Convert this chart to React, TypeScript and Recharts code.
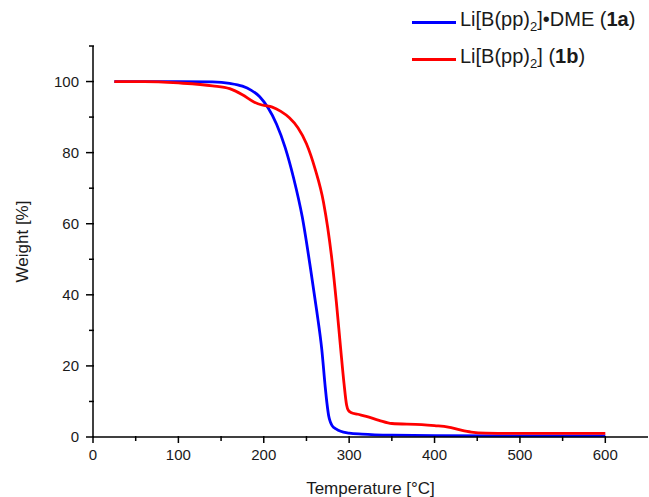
import { LineChart, Line, XAxis, YAxis, Legend, Label } from 'recharts';

// TGA traces
const TEMP_1A = [25, 60, 100, 140, 160, 175, 185, 195, 205, 215, 225, 235, 245, 255, 262, 268, 272, 274, 276, 278, 280, 285, 290, 300, 315, 350, 400, 500, 600];
const WEIGHT_1A = [100, 100, 100, 99.9, 99.5, 98.7, 97.6, 95.8, 92.6, 88, 81.5, 72.8, 62, 47, 35.5, 24.5, 14, 9.5, 6, 4.2, 3.2, 2.2, 1.6, 1.1, 0.8, 0.5, 0.4, 0.3, 0.3];

const TEMP_1B = [25, 60, 100, 140, 160, 175, 189, 198, 210, 220, 230, 240, 250, 260, 270, 280, 285, 290, 294, 297, 299, 302, 310, 320, 335, 350, 385, 400, 416, 430, 443, 460, 500, 600];
const WEIGHT_1B = [100, 100, 99.6, 98.8, 98, 96.3, 94.2, 93.4, 92.8, 91.6, 89.8, 87, 82.5, 75.5, 66, 49.5, 38, 25, 15, 9, 7.5, 6.9, 6.4, 5.8, 4.7, 3.8, 3.5, 3.2, 2.8, 2, 1.4, 1.1, 1.0, 1.0];

const X_TICKS = [0, 50, 100, 150, 200, 250, 300, 350, 400, 450, 500, 550, 600];
const Y_TICKS = [0, 10, 20, 30, 40, 50, 60, 70, 80, 90, 100, 110];

const FONT = '"Liberation Sans", Arial, sans-serif';
const INK = '#1a1a1a';

const data1a = TEMP_1A.map((t, i) => ({ t, w: WEIGHT_1A[i] }));
const data1b = TEMP_1B.map((t, i) => ({ t, w: WEIGHT_1B[i] }));

function XTick(props: any) {
  const { x, y, payload } = props;
  const major = payload.value % 100 === 0;
  return (
    <g>
      <path d={`M${x},${y - 1}V${y + (major ? 6 : 4)}`} stroke="#000" strokeWidth={1.5} fill="none" />
      {major && (
        <text x={x} y={y + 23} textAnchor="middle" fontFamily={FONT} fontSize={15} fill={INK}>
          {payload.value}
        </text>
      )}
    </g>
  );
}

function YTick(props: any) {
  const { x, y, payload } = props;
  const major = payload.value % 20 === 0;
  return (
    <g>
      <path d={`M${x + 1},${y}H${x - (major ? 7 : 4)}`} stroke="#000" strokeWidth={1.5} fill="none" />
      {major && (
        <text x={x - 14} y={y + 5.3} textAnchor="end" fontFamily={FONT} fontSize={15} fill={INK}>
          {payload.value}
        </text>
      )}
    </g>
  );
}

function LegendBox() {
  const rows = [
    { color: '#0000ff', label: <>Li[B(pp)<sub style={{ fontSize: 13 }}>2</sub>]•DME (<b>1a</b>)</> },
    { color: '#ff0000', label: <>Li[B(pp)<sub style={{ fontSize: 13 }}>2</sub>] (<b>1b</b>)</> },
  ];
  return (
    <div style={{ fontFamily: FONT, fontSize: 20, color: INK }}>
      {rows.map((r, i) => (
        <div key={i} style={{ display: 'flex', alignItems: 'center', height: 37 }}>
          <span style={{ display: 'inline-block', width: 44, height: 3, background: r.color, marginRight: 4 }} />
          <span style={{ lineHeight: '22px', whiteSpace: 'nowrap' }}>{r.label}</span>
        </div>
      ))}
    </div>
  );
}

export default function App() {
  return (
    <div style={{ position: 'absolute', left: 0, top: 0, background: '#fff' }}>
      <LineChart width={649} height={497} margin={{ top: 46, right: 1, bottom: 0, left: 13 }}>
        <XAxis
          type="number"
          dataKey="t"
          domain={[0, 650]}
          ticks={X_TICKS}
          allowDuplicatedCategory={false}
          height={60}
          tickSize={0}
          tickMargin={0}
          tick={<XTick />}
          axisLine={{ stroke: '#000', strokeWidth: 1.5 }}
          interval={0}
        >
          <Label
            value="Temperature [°C]"
            position="insideBottom"
            offset={3}
            style={{ fontFamily: FONT, fontSize: 17, fill: INK }}
          />
        </XAxis>
        <YAxis
          type="number"
          domain={[0, 110]}
          ticks={Y_TICKS}
          width={80}
          tickSize={0}
          tickMargin={0}
          tick={<YTick />}
          axisLine={{ stroke: '#000', strokeWidth: 1.5 }}
          interval={0}
        >
          <Label
            value="Weight [%]"
            angle={-90}
            position="insideLeft"
            offset={9}
            style={{ fontFamily: FONT, fontSize: 17, fill: INK, textAnchor: 'middle' }}
          />
        </YAxis>
        <Legend
          layout="vertical"
          align="center"
          verticalAlign="middle"
          wrapperStyle={{ top: 4, left: 412, width: 237 }}
          content={() => <LegendBox />}
        />
        <Line
          data={data1a}
          dataKey="w"
          name="1a"
          type="monotone"
          stroke="#0000ff"
          strokeWidth={2.8}
          dot={false}
          isAnimationActive={false}
        />
        <Line
          data={data1b}
          dataKey="w"
          name="1b"
          type="monotone"
          stroke="#ff0000"
          strokeWidth={2.8}
          dot={false}
          isAnimationActive={false}
        />
      </LineChart>
    </div>
  );
}
